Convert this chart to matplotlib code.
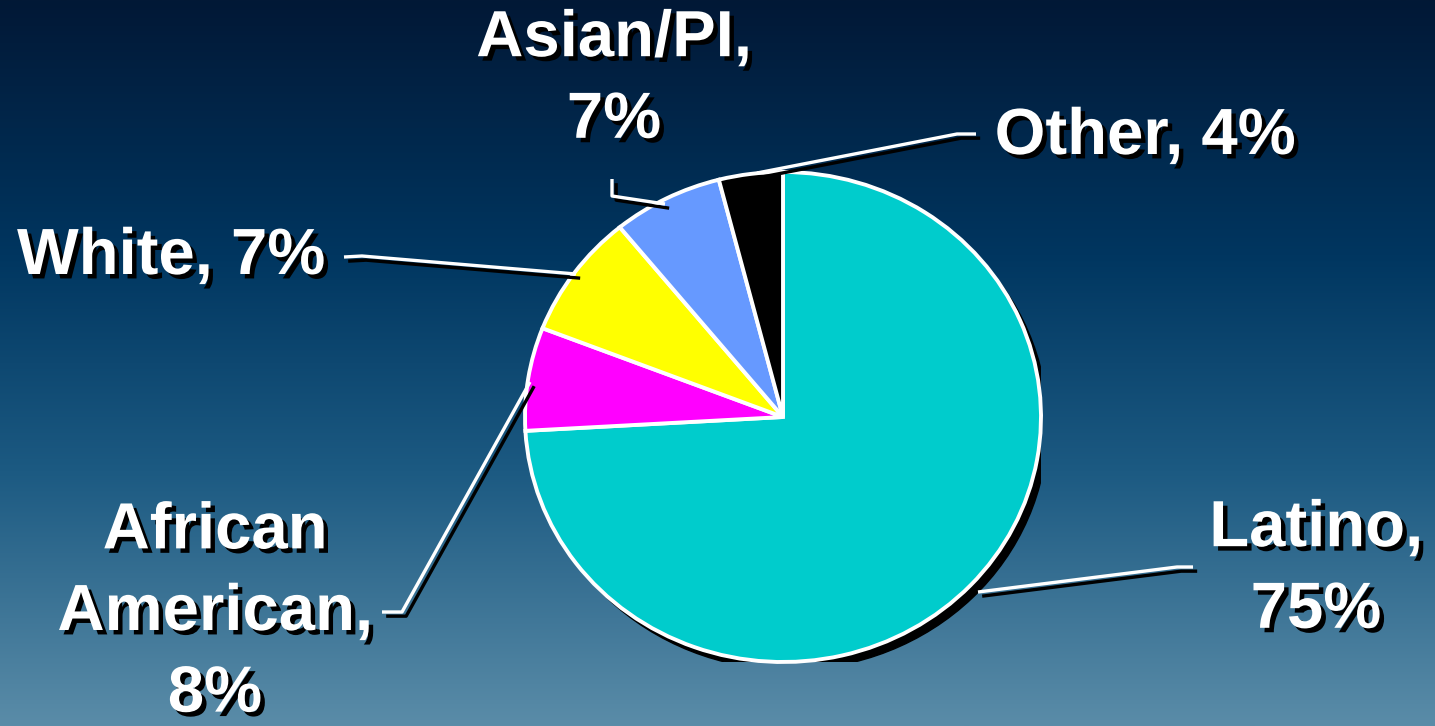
import numpy as np
import matplotlib
matplotlib.use("Agg")
import matplotlib.pyplot as plt
import matplotlib.patheffects as pe
from matplotlib.colors import LinearSegmentedColormap
from matplotlib.patches import Circle

plt.rcParams['font.family'] = ['Liberation Sans', 'DejaVu Sans']

# Data (clockwise from 12 o'clock)
groups = ['Latino', 'African\nAmerican', 'White', 'Asian/PI', 'Other']
shares = [74.1, 6.8, 8.2, 6.9, 4.0]          # wedge sizes as drawn
label_pct = [75, 8, 7, 7, 4]                 # values printed in the labels
colors = ['#00CCCC', '#FF00FF', '#FFFF00', '#6699FF', '#000000']

W, H = 1435, 726
fig = plt.figure(figsize=(W / 100, H / 100), dpi=100)

# background gradient
bg = fig.add_axes([0, 0, 1, 1])
cmap = LinearSegmentedColormap.from_list('bg', [
    (0.0, (2 / 255, 24 / 255, 54 / 255)),
    (0.35, (0 / 255, 54 / 255, 96 / 255)),
    (0.65, (28 / 255, 90 / 255, 130 / 255)),
    (1.0, (90 / 255, 140 / 255, 168 / 255)),
])
grad = np.linspace(0, 1, 256).reshape(-1, 1)
bg.imshow(grad, cmap=cmap, aspect='auto', extent=(0, W, H, 0))
bg.set_xlim(0, W)
bg.set_ylim(H, 0)
bg.axis('off')

# pie (slightly elliptical)
cx, cy, rx, ry = 783, 417, 258, 245
pax = fig.add_axes([(cx - rx) / W, (H - cy - ry) / H, 2 * rx / W, 2 * ry / H])
pax.add_patch(Circle((0.026, -0.032), 1.0, color='black', zorder=0))
pax.pie(shares, colors=colors, startangle=90, counterclock=False, radius=1,
        wedgeprops=dict(edgecolor='white', linewidth=2.8))
pax.set_aspect('auto')
pax.set_xlim(-1, 1)
pax.set_ylim(-1, 1)
pax.axis('off')

# overlay for leader lines and labels (pixel coords)
ov = fig.add_axes([0, 0, 1, 1])
ov.set_xlim(0, W)
ov.set_ylim(H, 0)
ov.axis('off')
ov.patch.set_alpha(0)

line_fx = [pe.SimpleLineShadow(offset=(3, -3), shadow_color='black', alpha=1, linewidth=2.4),
           pe.Normal()]
leaders = [
    [(978, 592), (1177, 567), (1193, 567)],
    [(382, 612), (402, 612), (530, 382)],
    [(344, 257), (362, 256), (576, 274)],
    [(612, 179), (612, 196), (665, 204)],
    [(757, 173), (957, 134), (976, 134)],
]
for pts in leaders:
    xs, ys = zip(*pts)
    ov.plot(xs, ys, color='white', lw=2.4, solid_capstyle='butt',
            path_effects=line_fx)

text_fx = [pe.withSimplePatchShadow(offset=(3.2, -3.2), shadow_rgbFace='black', alpha=1)]
label_pos = [(1316, 570, 'Latino,\n{}%'),
             (215, 613, 'African\nAmerican,\n{}%'),
             (171, 257, 'White, {}%'),
             (614, 80, 'Asian/PI,\n{}%'),
             (1145, 137, 'Other, {}%')]
for (x, y, fmt), pct in zip(label_pos, label_pct):
    ov.text(x, y, fmt.format(pct), color='white', fontsize=47, fontweight='bold',
            ha='center', va='center', linespacing=1.46, path_effects=text_fx)

fig.savefig('out.png', dpi=100)
